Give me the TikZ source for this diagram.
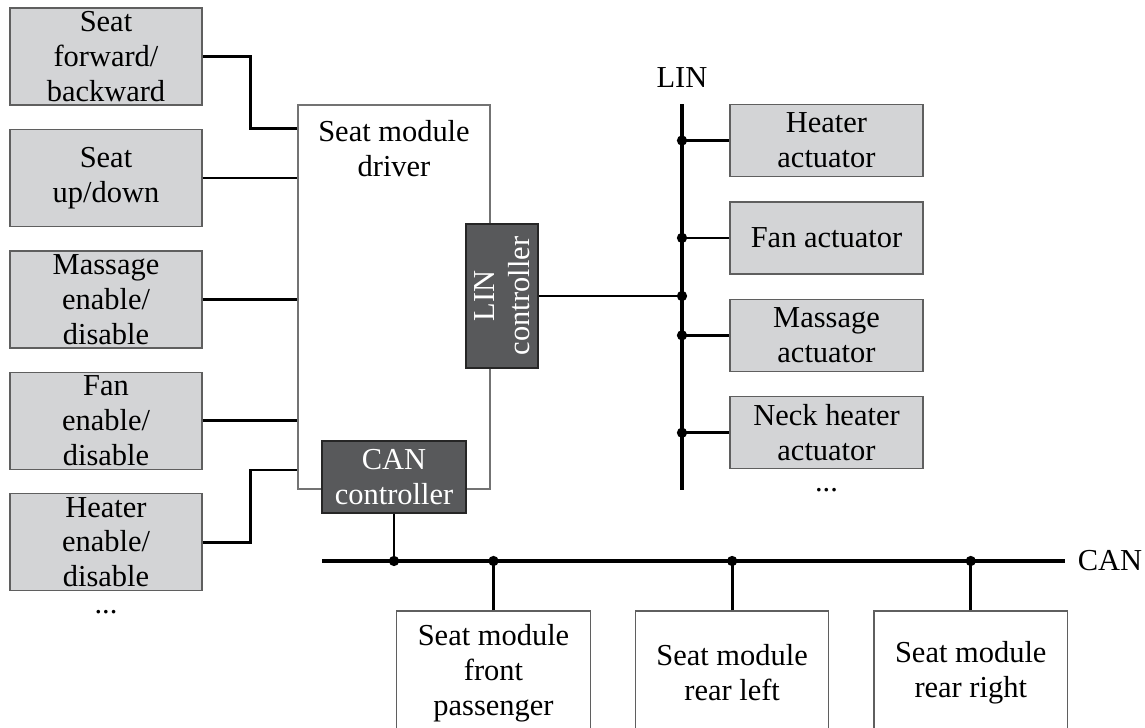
\documentclass[tikz,border=0pt]{standalone}
\usepackage{fontspec}
\setmainfont{Liberation Serif}
\usetikzlibrary{positioning}
\definecolor{boxgray}{RGB}{211,212,214}
\definecolor{ctrlgray}{RGB}{88,89,91}
\definecolor{edgegray}{RGB}{95,95,95}
\tikzstyle{inbox}=[rectangle,draw=edgegray,line width=0.6pt,fill=boxgray,align=center,minimum width=2.88cm,minimum height=1.455cm,inner sep=0pt]
\tikzstyle{actbox}=[inbox,minimum width=2.9cm,minimum height=1.08cm]
\tikzstyle{ctrl}=[rectangle,draw=black!85,line width=0.6pt,fill=ctrlgray,text=white,align=center,inner sep=0pt,minimum width=2.16cm,minimum height=1.08cm]
\tikzstyle{modbox}=[rectangle,draw=edgegray,line width=0.55pt,fill=white,align=center,minimum width=2.9cm,minimum height=1.86cm,inner sep=0pt]
\tikzstyle{wire}=[line width=1.2pt]
\tikzstyle{bus}=[line width=1.4pt]
\tikzstyle{junc}=[circle,fill=black,inner sep=0pt,minimum size=4.4pt]
\tikzstyle{more}=[inner sep=0pt]

\begin{document}
\begin{tikzpicture}[x=0.015cm,y=-0.015cm,font=\fontsize{13}{14.9}\selectfont]
\clip (0,0) rectangle (1145,728);
% inputs on the left
\node[inbox] (seatfb) at (106,56.5) {Seat\\forward/\\backward};
\node[inbox, below=0.345cm of seatfb] (seatud) {Seat\\up/down};
\node[inbox, below=0.345cm of seatud] (massage) {Massage\\enable/\\disable};
\node[inbox, below=0.345cm of massage] (fan) {Fan\\enable/\\disable};
\node[inbox, below=0.345cm of fan] (heater) {Heater\\enable/\\disable};
\node[more, below=0.28cm of heater] (moreinp) {...};
% driver and its controllers
\node[rectangle,draw=black!55,line width=0.5pt,minimum width=2.88cm,minimum height=5.76cm] (driver) at (394,297) {};
\node[anchor=north,align=center] (drvlabel) at (394,112) {Seat module\\driver};
\draw[wire] (seatfb.east) -- ++(48,0) |- (driver.west |- seatud.north);
\draw[wire] (seatud.east) -- (seatud.east -| driver.west);
\draw[wire] (massage.east) -- (massage.east -| driver.west);
\draw[wire] (fan.east) -- (fan.east -| driver.west);
\draw[wire] (heater.east) -- ++(48,0) |- (driver.west |- fan.south);
\node[ctrl, rotate=90] (linctrl) at (502,296) {LIN\\controller};
\node[ctrl] (canctrl) at (394,477) {CAN\\controller};
% LIN bus
\coordinate (lintop) at (682,104);
\coordinate (linbot) at (682,490);
\draw[bus] (lintop) -- (linbot);
\node[above=0.12cm of lintop] (linlabel) {LIN};
\node[actbox] (heatact) at (826.5,140.5) {Heater\\actuator};
\node[actbox, below=0.36cm of heatact] (fanact) {Fan actuator};
\node[actbox, below=0.36cm of fanact] (massact) {Massage\\actuator};
\node[actbox, below=0.36cm of massact] (neckact) {Neck heater\\actuator};
\node[more, below=0.28cm of neckact] (moreact) {...};
\draw[wire] (linctrl.south) -- (linctrl.south -| lintop) node[junc]{};
\draw[wire] (heatact.west) -- (heatact.west -| lintop) node[junc]{};
\draw[wire] (fanact.west) -- (fanact.west -| lintop) node[junc]{};
\draw[wire] (massact.west) -- (massact.west -| lintop) node[junc]{};
\draw[wire] (neckact.west) -- (neckact.west -| lintop) node[junc]{};
% CAN bus
\coordinate (canleft) at (322,561);
\coordinate (canright) at (1065,561);
\draw[bus] (canleft) -- (canright) node[right=0.05cm] (canlabel) {CAN};
\node[modbox] (modfp) at (493.5,673) {Seat module\\front\\passenger};
\node[modbox, right=0.66cm of modfp] (modrl) {Seat module\\rear left};
\node[modbox, right=0.66cm of modrl] (modrr) {Seat module\\rear right};
\draw[wire] (canctrl.south) -- (canctrl.south |- canleft) node[junc]{};
\draw[wire] (modfp.north) -- (modfp.north |- canleft) node[junc]{};
\draw[wire] (modrl.north) -- (modrl.north |- canleft) node[junc]{};
\draw[wire] (modrr.north) -- (modrr.north |- canleft) node[junc]{};
\end{tikzpicture}
\end{document}
